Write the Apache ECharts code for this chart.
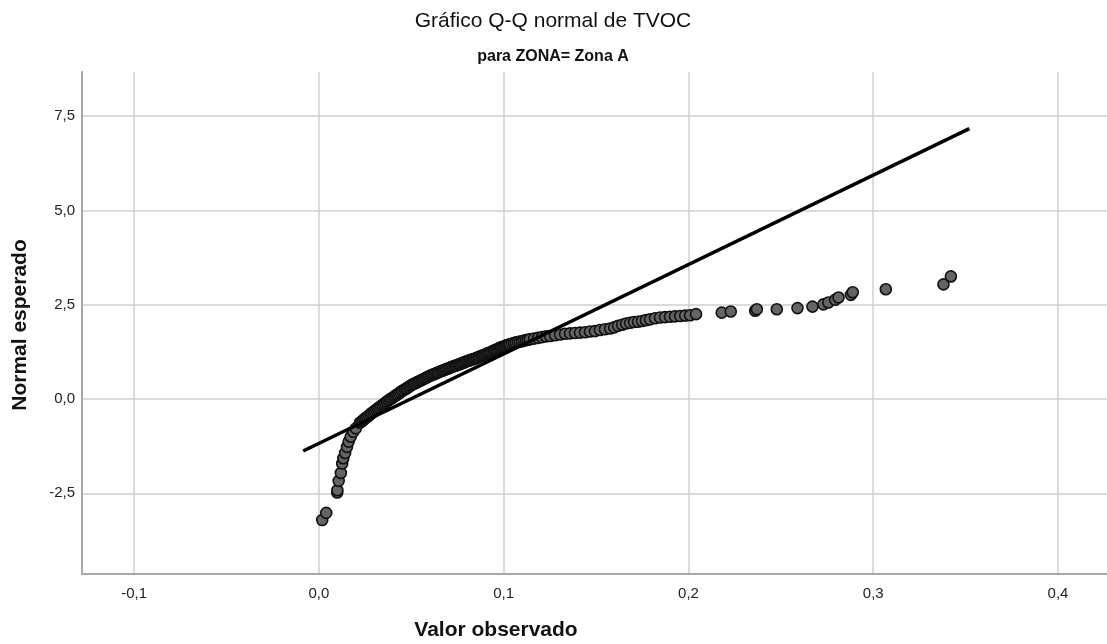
<!DOCTYPE html>
<html>
<head>
<meta charset="utf-8">
<script src="https://cdn.jsdelivr.net/npm/echarts@6/dist/echarts.min.js"></script>
<style>
  html, body { margin: 0; padding: 0; background: #ffffff; }
  #chart { width: 1107px; height: 644px; }
</style>
</head>
<body>
<div id="chart"></div>
<script>
// Observed TVOC values (Zona A), sorted ascending
const observed = [
  0.0018, 0.0040, 0.0099, 0.0100, 0.0107, 0.0119, 0.0126, 0.0132, 0.0142, 0.0152,
  0.0161, 0.0172, 0.0186, 0.0200,
  0.0222, 0.0230, 0.0238, 0.0246, 0.0254, 0.0262, 0.0271, 0.0279, 0.0287, 0.0295,
  0.0303, 0.0311, 0.0319, 0.0327, 0.0336, 0.0344, 0.0352, 0.0360, 0.0368, 0.0376,
  0.0384, 0.0392, 0.0401, 0.0409, 0.0417, 0.0425, 0.0433, 0.0441, 0.0449, 0.0457,
  0.0466, 0.0474, 0.0482, 0.0490, 0.0498, 0.0506, 0.0514, 0.0522, 0.0531, 0.0539,
  0.0547, 0.0555, 0.0563, 0.0571, 0.0579, 0.0587, 0.0596, 0.0604, 0.0612, 0.0620,
  0.0628, 0.0636, 0.0644, 0.0652, 0.0661, 0.0669, 0.0677, 0.0685, 0.0693, 0.0701,
  0.0709, 0.0717, 0.0726, 0.0734, 0.0742, 0.0750, 0.0758, 0.0766, 0.0774, 0.0782,
  0.0790, 0.0798, 0.0807, 0.0815, 0.0823, 0.0831, 0.0839, 0.0847, 0.0855, 0.0863,
  0.0872, 0.0880, 0.0888, 0.0896, 0.0904, 0.0912, 0.0920, 0.0928, 0.0937, 0.0945,
  0.0953, 0.0961, 0.0969, 0.0977, 0.0985, 0.0993, 0.1002, 0.1010, 0.1018, 0.1026,
  0.1034, 0.1045, 0.1056, 0.1066, 0.1077, 0.1088, 0.1099, 0.1110, 0.1121, 0.1131,
  0.1142, 0.1164, 0.1186, 0.1207, 0.1229, 0.1251, 0.1278, 0.1305, 0.1332, 0.1359,
  0.1386, 0.1413, 0.1440, 0.1467, 0.1494, 0.1521, 0.1548, 0.1576, 0.1598, 0.1619,
  0.1641, 0.1662, 0.1684, 0.1705, 0.1727, 0.1749, 0.1770, 0.1792, 0.1819, 0.1846,
  0.1873, 0.1900, 0.1927, 0.1955, 0.1982, 0.2009, 0.2041,
  0.2180, 0.2229, 0.2361, 0.2370, 0.2478, 0.2590, 0.2671, 0.2730, 0.2757, 0.2794,
  0.2812, 0.2879, 0.2889, 0.3068, 0.3380, 0.3420
];

// Expected normal quantiles for each observed value
const expectedNormal = [
  -3.21, -3.02, -2.48, -2.42, -2.17, -1.96, -1.71, -1.57, -1.43, -1.27,
  -1.13, -1.00, -0.87, -0.78,
  -0.63, -0.60, -0.57, -0.53, -0.50, -0.47, -0.44, -0.40, -0.37, -0.34,
  -0.31, -0.28, -0.25, -0.22, -0.19, -0.16, -0.13, -0.10, -0.07, -0.04,
  -0.01,  0.01,  0.04,  0.07,  0.10,  0.12,  0.15,  0.18,  0.21,  0.23,
   0.26,  0.28,  0.31,  0.33,  0.36,  0.38,  0.40,  0.42,  0.44,  0.46,
   0.48,  0.50,  0.52,  0.54,  0.56,  0.58,  0.60,  0.62,  0.64,  0.65,
   0.67,  0.69,  0.70,  0.72,  0.74,  0.75,  0.77,  0.78,  0.80,  0.81,
   0.83,  0.85,  0.86,  0.88,  0.89,  0.90,  0.92,  0.93,  0.95,  0.96,
   0.98,  1.00,  1.01,  1.02,  1.04,  1.05,  1.06,  1.08,  1.09,  1.11,
   1.13,  1.14,  1.16,  1.17,  1.19,  1.21,  1.22,  1.24,  1.26,  1.28,
   1.30,  1.31,  1.33,  1.35,  1.37,  1.38,  1.40,  1.41,  1.43,  1.44,
   1.45,  1.47,  1.48,  1.50,  1.51,  1.52,  1.53,  1.55,  1.56,  1.57,
   1.58,  1.60,  1.62,  1.64,  1.66,  1.67,  1.69,  1.71,  1.73,  1.74,
   1.75,  1.76,  1.77,  1.79,  1.80,  1.83,  1.85,  1.87,  1.90,  1.94,
   1.97,  2.00,  2.02,  2.04,  2.05,  2.07,  2.09,  2.11,  2.14,  2.16,
   2.17,  2.18,  2.19,  2.20,  2.21,  2.22,  2.25,
   2.29,  2.32,  2.34,  2.38,  2.38,  2.41,  2.45,  2.51,  2.56,  2.63,
   2.69,  2.76,  2.83,  2.91,  3.04,  3.25
];

// Reference normal line (end points)
const refLineX = [-0.0085, 0.352];
const refLineY = [-1.38, 7.17];

// Tick labels
const xTicks = [-0.1, 0.0, 0.1, 0.2, 0.3, 0.4];
const yTicks = [-2.5, 0.0, 2.5, 5.0, 7.5];

const titleText = 'Gráfico Q-Q normal de TVOC';
const subtitleText = 'para ZONA= Zona A';
const xName = 'Valor observado';
const yName = 'Normal esperado';

const points = observed.map((v, i) => [v, expectedNormal[i]]);
const linePts = refLineX.map((v, i) => [v, refLineY[i]]);

const fmt = v => v.toFixed(1).replace('.', ',');

const chart = echarts.init(document.getElementById('chart'), null, { renderer: 'canvas' });

const labelFont = 'Liberation Sans, Arial, sans-serif';

function centeredText(x, y, text, font, rotation) {
  return {
    type: 'text', x: x, y: y, rotation: rotation || 0,
    style: {
      text: text, font: font, fill: '#111',
      align: 'center', verticalAlign: 'middle',
      textAlign: 'center', textVerticalAlign: 'middle'
    }
  };
}

chart.setOption({
  animation: false,
  backgroundColor: '#ffffff',
  grid: { left: 82, right: 0, top: 72, bottom: 70, containLabel: false },
  graphic: [
    centeredText(553, 21, titleText, '21px ' + labelFont),
    centeredText(553, 57, subtitleText, 'bold 16px ' + labelFont),
    centeredText(496, 630, xName, 'bold 21px ' + labelFont),
    centeredText(20, 325, yName, 'bold 21px ' + labelFont, Math.PI / 2)
  ],
  xAxis: {
    type: 'value',
    min: -0.1282,
    max: 0.4265,
    axisLine: { show: true, onZero: false, lineStyle: { color: '#a6a6a6', width: 2 } },
    axisTick: { show: false, customValues: xTicks },
    axisLabel: {
      customValues: xTicks,
      formatter: fmt,
      color: '#222',
      fontFamily: labelFont,
      fontSize: 15,
      margin: 12
    },
    splitLine: { show: true, lineStyle: { color: '#cfcfcf', width: 1.5 } }
  },
  yAxis: {
    type: 'value',
    min: -4.64,
    max: 8.67,
    axisLine: { show: true, onZero: false, lineStyle: { color: '#a6a6a6', width: 2 } },
    axisTick: { show: false, customValues: yTicks },
    axisLabel: {
      customValues: yTicks,
      formatter: fmt,
      color: '#222',
      fontFamily: labelFont,
      fontSize: 15,
      margin: 7
    },
    splitLine: { show: true, lineStyle: { color: '#cfcfcf', width: 1.5 } }
  },
  series: [
    {
      type: 'scatter',
      data: points,
      symbol: 'circle',
      symbolSize: 11,
      itemStyle: { color: '#646464', borderColor: '#111111', borderWidth: 1.6, opacity: 1 },
      z: 2
    },
    {
      type: 'line',
      data: linePts,
      symbol: 'none',
      lineStyle: { color: '#000000', width: 3.5 },
      z: 3
    }
  ]
});
</script>
</body>
</html>
